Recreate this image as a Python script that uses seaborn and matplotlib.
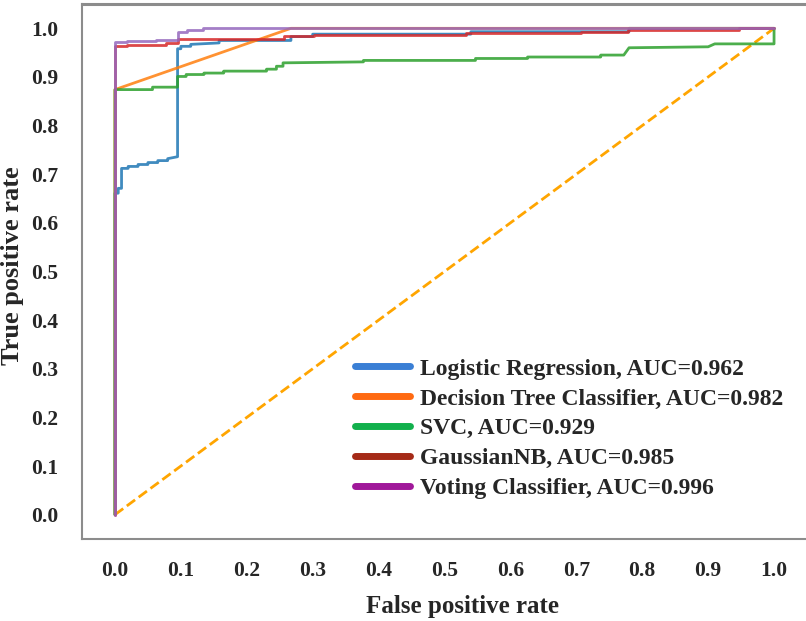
import numpy as np
import pandas as pd
import matplotlib
matplotlib.use("Agg")
import matplotlib.pyplot as plt
from matplotlib.lines import Line2D
import seaborn as sns

# ROC corner points
lr_fpr = [0.0, 0.0, 0.005, 0.005, 0.01, 0.01, 0.02, 0.02, 0.035, 0.035, 0.05, 0.05, 0.065, 0.065, 0.08, 0.08, 0.095,
          0.095, 0.10, 0.10, 0.115, 0.115, 0.158, 0.158, 0.267, 0.267, 0.30, 0.30, 0.54, 0.54, 0.78, 0.78, 1.0]
lr_tpr = [0.0, 0.661, 0.661, 0.671, 0.671, 0.712, 0.712, 0.716, 0.716, 0.720, 0.720, 0.724, 0.724, 0.728, 0.728, 0.732, 0.736,
          0.958, 0.958, 0.963, 0.963, 0.967, 0.970, 0.975, 0.975, 0.983, 0.983, 0.988, 0.988, 0.993, 0.993, 1.0, 1.0]

dt_fpr = [0.0, 0.0, 0.267, 1.0]
dt_tpr = [0.0, 0.874, 1.0, 1.0]

svc_fpr = [0.0, 0.0, 0.057, 0.057, 0.095, 0.095, 0.108, 0.108, 0.135, 0.135, 0.165, 0.165, 0.23, 0.23, 0.245, 0.245,
           0.255, 0.255, 0.377, 0.377, 0.547, 0.547, 0.626, 0.626, 0.737, 0.737, 0.772, 0.78, 0.90, 0.91, 1.0, 1.0]
svc_tpr = [0.0, 0.874, 0.874, 0.879, 0.879, 0.901, 0.901, 0.905, 0.905, 0.908, 0.908, 0.912, 0.912, 0.916, 0.916, 0.922,
           0.922, 0.929, 0.931, 0.934, 0.934, 0.938, 0.938, 0.941, 0.941, 0.945, 0.945, 0.960, 0.962, 0.968, 0.968, 1.0]

nb_fpr = [0.0, 0.0, 0.019, 0.019, 0.077, 0.077, 0.095, 0.095, 0.257, 0.257, 0.302, 0.302, 0.532, 0.532, 0.707, 0.707,
          0.778, 0.778, 0.947, 0.947, 1.0]
nb_tpr = [0.0, 0.963, 0.963, 0.966, 0.966, 0.970, 0.970, 0.979, 0.979, 0.984, 0.984, 0.987, 0.987, 0.990, 0.990, 0.993,
          0.993, 0.997, 0.997, 1.0, 1.0]

vc_fpr = [0.0, 0.0, 0.019, 0.019, 0.062, 0.062, 0.095, 0.095, 0.11, 0.11, 0.133, 0.133, 1.0]
vc_tpr = [0.0, 0.972, 0.972, 0.974, 0.974, 0.976, 0.976, 0.992, 0.992, 0.997, 0.997, 1.0, 1.0]

models = ["Logistic Regression", "Decision Tree Classifier", "SVC", "GaussianNB", "Voting Classifier"]
aucs = [0.962, 0.982, 0.929, 0.985, 0.996]
line_colors = ["#1f77b4", "#ff7f0e", "#2ca02c", "#d62728", "#9467bd"]
legend_colors = ["#3a7fd5", "#ff6a12", "#12b04c", "#a52a17", "#a0189a"]

curves = [(lr_fpr, lr_tpr), (dt_fpr, dt_tpr), (svc_fpr, svc_tpr), (nb_fpr, nb_tpr), (vc_fpr, vc_tpr)]
frames = []
for name, (f, t) in zip(models, curves):
    frames.append(pd.DataFrame({"fpr": f, "tpr": t, "model": name}))
df = pd.concat(frames, ignore_index=True)

sns.set_style("white")
plt.rcParams["font.family"] = ["Liberation Serif", "DejaVu Serif"]
plt.rcParams["font.weight"] = "bold"

fig = plt.figure(figsize=(8.06, 6.21), dpi=100)
ax = fig.add_axes([82 / 806, 1 - 539 / 621, 725 / 806, 535 / 621])

# chance line
sns.lineplot(x=[0, 1], y=[0, 1], ax=ax, color="orange", linestyle="--", linewidth=2, zorder=1)

for name, col in zip(models, line_colors):
    sub = df[df["model"] == name]
    sns.lineplot(data=sub, x="fpr", y="tpr", ax=ax, color=col, linewidth=2,
                 sort=False, estimator=None, alpha=0.85, zorder=2)

ax.set_xlim(-0.05, 1.05)
ax.set_ylim(-0.05, 1.05)
ticks = np.arange(0, 1.01, 0.1)
ax.set_xticks(ticks)
ax.set_yticks(ticks)
ax.set_xticklabels([f"{v:.1f}" for v in ticks])
ax.set_yticklabels([f"{v:.1f}" for v in ticks])
ax.tick_params(axis="both", length=4, width=1.2, color="#888888", labelsize=15.5, pad=12)
ax.tick_params(axis="y", pad=13)
for lab in ax.get_xticklabels() + ax.get_yticklabels():
    lab.set_fontweight("bold")

for side in ["left", "top", "bottom"]:
    ax.spines[side].set_visible(True)
    ax.spines[side].set_color("#8c8c8c")
    ax.spines[side].set_linewidth(1.5)
ax.spines["top"].set_linewidth(2.2)
ax.spines["right"].set_visible(False)

ax.set_xlabel("False positive rate", fontsize=18, fontweight="bold")
ax.set_ylabel("True positive rate", fontsize=19, fontweight="bold")
ax.xaxis.set_label_coords(0.5255, -0.105)
ax.yaxis.set_label_coords(-0.080, 0.51)

handles = [Line2D([0], [0], color=c, linewidth=5, solid_capstyle="round") for c in legend_colors]
labels = [f"{m}, AUC={a:.3f}" for m, a in zip(models, aucs)]
ax.legend(handles, labels, loc="upper left", bbox_to_anchor=(0.3766, 0.338), frameon=False,
          borderpad=0, borderaxespad=0, handlelength=2.33, handletextpad=0.42, labelspacing=0.35,
          prop={"family": "Liberation Serif", "weight": "bold", "size": 17})

fig.savefig("out.png", dpi=100)
